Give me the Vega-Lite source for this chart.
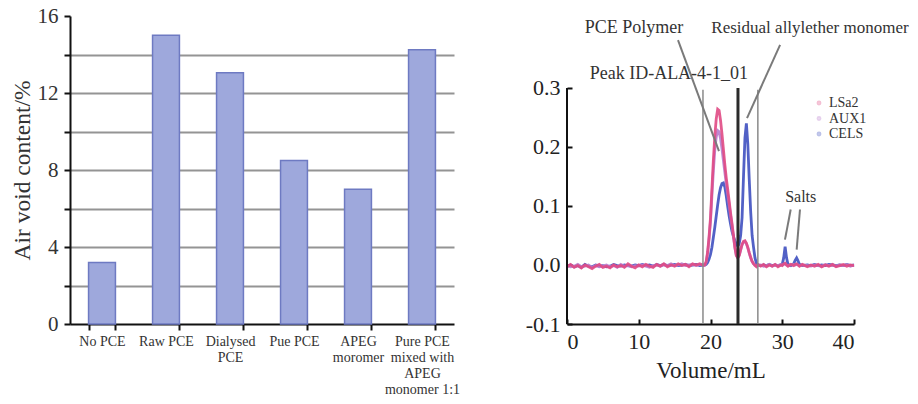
{
  "$schema": "https://vega.github.io/schema/vega-lite/v6.json",
  "background": "white",
  "padding": {"left": 10, "top": 5, "right": 2, "bottom": 2},
  "config": {
    "font": "Liberation Serif",
    "view": {"stroke": null},
    "axis": {"labelFont": "Liberation Serif", "titleFont": "Liberation Serif", "titleFontWeight": "normal"},
    "legend": {"labelFont": "Liberation Serif"}
  },
  "datasets": {
    "voids": [
      {"sample": "No PCE", "air_void": 3.2},
      {"sample": "Raw PCE", "air_void": 15.0},
      {"sample": "Dialysed PCE", "air_void": 13.05},
      {"sample": "Pue PCE", "air_void": 8.5},
      {"sample": "APEG moromer", "air_void": 7.0},
      {"sample": "Pure PCE mixed with APEG monomer 1:1", "air_void": 14.25}
    ],
    "gpc": [
      {"volume": 0, "LSa2": -0.003, "AUX1": -0.001, "CELS": -0.002},
      {"volume": 0.5, "LSa2": 0.001, "AUX1": -0.003, "CELS": 0.0},
      {"volume": 1, "LSa2": -0.004, "AUX1": -0.002, "CELS": -0.003},
      {"volume": 1.5, "LSa2": -0.001, "AUX1": 0.001, "CELS": -0.001},
      {"volume": 2, "LSa2": -0.005, "AUX1": -0.003, "CELS": -0.004},
      {"volume": 2.5, "LSa2": 0.0, "AUX1": -0.002, "CELS": 0.001},
      {"volume": 3, "LSa2": -0.003, "AUX1": 0.0, "CELS": -0.002},
      {"volume": 3.5, "LSa2": -0.006, "AUX1": -0.004, "CELS": -0.003},
      {"volume": 4, "LSa2": -0.002, "AUX1": -0.001, "CELS": 0.0},
      {"volume": 4.5, "LSa2": 0.001, "AUX1": -0.003, "CELS": -0.002},
      {"volume": 5, "LSa2": -0.004, "AUX1": -0.002, "CELS": -0.001},
      {"volume": 5.5, "LSa2": -0.002, "AUX1": 0.0, "CELS": -0.003},
      {"volume": 6, "LSa2": -0.005, "AUX1": -0.003, "CELS": -0.002},
      {"volume": 6.5, "LSa2": 0.0, "AUX1": -0.001, "CELS": 0.001},
      {"volume": 7, "LSa2": -0.003, "AUX1": -0.004, "CELS": -0.001},
      {"volume": 7.5, "LSa2": -0.001, "AUX1": 0.001, "CELS": -0.002},
      {"volume": 8, "LSa2": -0.004, "AUX1": -0.002, "CELS": 0.0},
      {"volume": 8.5, "LSa2": 0.002, "AUX1": -0.001, "CELS": -0.001},
      {"volume": 9, "LSa2": -0.002, "AUX1": -0.003, "CELS": -0.002},
      {"volume": 9.5, "LSa2": -0.005, "AUX1": -0.001, "CELS": 0.0},
      {"volume": 10, "LSa2": 0.0, "AUX1": -0.002, "CELS": -0.001},
      {"volume": 10.5, "LSa2": -0.003, "AUX1": 0.0, "CELS": 0.001},
      {"volume": 11, "LSa2": 0.001, "AUX1": -0.002, "CELS": -0.001},
      {"volume": 11.5, "LSa2": -0.002, "AUX1": -0.004, "CELS": 0.0},
      {"volume": 12, "LSa2": -0.004, "AUX1": -0.001, "CELS": -0.002},
      {"volume": 12.5, "LSa2": 0.001, "AUX1": 0.0, "CELS": 0.001},
      {"volume": 13, "LSa2": -0.002, "AUX1": -0.002, "CELS": -0.001},
      {"volume": 13.5, "LSa2": 0.002, "AUX1": 0.0, "CELS": 0.001},
      {"volume": 14, "LSa2": -0.003, "AUX1": -0.001, "CELS": -0.001},
      {"volume": 14.5, "LSa2": 0.0, "AUX1": 0.002, "CELS": 0.0},
      {"volume": 15, "LSa2": -0.002, "AUX1": -0.001, "CELS": 0.001},
      {"volume": 15.5, "LSa2": 0.002, "AUX1": 0.0, "CELS": -0.001},
      {"volume": 16, "LSa2": -0.001, "AUX1": 0.002, "CELS": 0.0},
      {"volume": 16.5, "LSa2": 0.001, "AUX1": -0.001, "CELS": 0.001},
      {"volume": 17, "LSa2": -0.003, "AUX1": 0.0, "CELS": -0.001},
      {"volume": 17.5, "LSa2": 0.002, "AUX1": 0.001, "CELS": 0.0},
      {"volume": 18, "LSa2": 0.0, "AUX1": -0.001, "CELS": 0.001},
      {"volume": 18.5, "LSa2": 0.002, "AUX1": 0.001, "CELS": -0.001},
      {"volume": 19, "LSa2": -0.001, "AUX1": 0.0, "CELS": 0.0},
      {"volume": 19.2, "LSa2": 0.0, "AUX1": 0.0, "CELS": 0.0},
      {"volume": 19.4, "LSa2": 0.006, "AUX1": 0.005, "CELS": 0.001},
      {"volume": 19.6, "LSa2": 0.022, "AUX1": 0.02, "CELS": 0.004},
      {"volume": 19.8, "LSa2": 0.048, "AUX1": 0.044, "CELS": 0.01},
      {"volume": 20.0, "LSa2": 0.08, "AUX1": 0.074, "CELS": 0.018},
      {"volume": 20.2, "LSa2": 0.13, "AUX1": 0.118, "CELS": 0.03},
      {"volume": 20.4, "LSa2": 0.178, "AUX1": 0.16, "CELS": 0.047},
      {"volume": 20.6, "LSa2": 0.218, "AUX1": 0.195, "CELS": 0.064},
      {"volume": 20.8, "LSa2": 0.248, "AUX1": 0.217, "CELS": 0.083},
      {"volume": 21.0, "LSa2": 0.264, "AUX1": 0.228, "CELS": 0.102},
      {"volume": 21.2, "LSa2": 0.262, "AUX1": 0.226, "CELS": 0.119},
      {"volume": 21.4, "LSa2": 0.245, "AUX1": 0.214, "CELS": 0.131},
      {"volume": 21.6, "LSa2": 0.222, "AUX1": 0.197, "CELS": 0.138},
      {"volume": 21.8, "LSa2": 0.196, "AUX1": 0.177, "CELS": 0.139},
      {"volume": 22.0, "LSa2": 0.17, "AUX1": 0.157, "CELS": 0.132},
      {"volume": 22.2, "LSa2": 0.147, "AUX1": 0.137, "CELS": 0.117},
      {"volume": 22.4, "LSa2": 0.128, "AUX1": 0.12, "CELS": 0.099},
      {"volume": 22.6, "LSa2": 0.108, "AUX1": 0.102, "CELS": 0.083},
      {"volume": 22.8, "LSa2": 0.088, "AUX1": 0.084, "CELS": 0.069},
      {"volume": 23.0, "LSa2": 0.07, "AUX1": 0.066, "CELS": 0.057},
      {"volume": 23.2, "LSa2": 0.05, "AUX1": 0.048, "CELS": 0.048},
      {"volume": 23.4, "LSa2": 0.03, "AUX1": 0.029, "CELS": 0.041},
      {"volume": 23.6, "LSa2": 0.016, "AUX1": 0.016, "CELS": 0.035},
      {"volume": 23.8, "LSa2": 0.012, "AUX1": 0.012, "CELS": 0.032},
      {"volume": 24.0, "LSa2": 0.016, "AUX1": 0.016, "CELS": 0.036},
      {"volume": 24.2, "LSa2": 0.026, "AUX1": 0.025, "CELS": 0.05},
      {"volume": 24.4, "LSa2": 0.035, "AUX1": 0.034, "CELS": 0.08},
      {"volume": 24.6, "LSa2": 0.04, "AUX1": 0.039, "CELS": 0.15},
      {"volume": 24.8, "LSa2": 0.041, "AUX1": 0.04, "CELS": 0.215},
      {"volume": 25.0, "LSa2": 0.037, "AUX1": 0.036, "CELS": 0.24},
      {"volume": 25.2, "LSa2": 0.03, "AUX1": 0.029, "CELS": 0.205},
      {"volume": 25.4, "LSa2": 0.021, "AUX1": 0.02, "CELS": 0.145},
      {"volume": 25.6, "LSa2": 0.013, "AUX1": 0.012, "CELS": 0.09},
      {"volume": 25.8, "LSa2": 0.006, "AUX1": 0.006, "CELS": 0.05},
      {"volume": 26.0, "LSa2": 0.002, "AUX1": 0.002, "CELS": 0.03},
      {"volume": 26.2, "LSa2": -0.001, "AUX1": 0.0, "CELS": 0.012},
      {"volume": 26.4, "LSa2": -0.003, "AUX1": -0.002, "CELS": 0.003},
      {"volume": 26.6, "LSa2": 0.001, "AUX1": -0.001, "CELS": 0.0},
      {"volume": 27.0, "LSa2": -0.002, "AUX1": 0.0, "CELS": -0.001},
      {"volume": 27.4, "LSa2": 0.001, "AUX1": -0.002, "CELS": 0.0},
      {"volume": 27.8, "LSa2": -0.003, "AUX1": -0.001, "CELS": -0.001},
      {"volume": 28.2, "LSa2": 0.0, "AUX1": 0.001, "CELS": 0.001},
      {"volume": 28.6, "LSa2": -0.002, "AUX1": -0.002, "CELS": -0.001},
      {"volume": 29.0, "LSa2": 0.001, "AUX1": 0.0, "CELS": 0.0},
      {"volume": 29.4, "LSa2": -0.003, "AUX1": -0.001, "CELS": -0.001},
      {"volume": 29.8, "LSa2": 0.0, "AUX1": 0.001, "CELS": 0.0},
      {"volume": 30.0, "LSa2": -0.001, "AUX1": 0.0, "CELS": 0.001},
      {"volume": 30.2, "LSa2": 0.002, "AUX1": 0.001, "CELS": 0.012},
      {"volume": 30.4, "LSa2": 0.003, "AUX1": 0.002, "CELS": 0.031},
      {"volume": 30.6, "LSa2": 0.0, "AUX1": 0.0, "CELS": 0.012},
      {"volume": 30.8, "LSa2": -0.002, "AUX1": -0.001, "CELS": 0.001},
      {"volume": 31.2, "LSa2": 0.001, "AUX1": 0.0, "CELS": -0.001},
      {"volume": 31.6, "LSa2": -0.001, "AUX1": 0.001, "CELS": 0.002},
      {"volume": 31.8, "LSa2": 0.001, "AUX1": 0.0, "CELS": 0.008},
      {"volume": 32.0, "LSa2": 0.002, "AUX1": 0.001, "CELS": 0.012},
      {"volume": 32.2, "LSa2": 0.0, "AUX1": 0.0, "CELS": 0.007},
      {"volume": 32.4, "LSa2": -0.002, "AUX1": -0.001, "CELS": 0.001},
      {"volume": 32.8, "LSa2": 0.001, "AUX1": 0.0, "CELS": -0.001},
      {"volume": 33.5, "LSa2": -0.003, "AUX1": -0.001, "CELS": 0.0},
      {"volume": 34.0, "LSa2": 0.0, "AUX1": -0.002, "CELS": -0.001},
      {"volume": 34.5, "LSa2": -0.002, "AUX1": 0.0, "CELS": 0.001},
      {"volume": 35.0, "LSa2": 0.001, "AUX1": -0.001, "CELS": -0.001},
      {"volume": 35.5, "LSa2": -0.003, "AUX1": -0.002, "CELS": 0.0},
      {"volume": 36.0, "LSa2": 0.0, "AUX1": 0.001, "CELS": -0.001},
      {"volume": 36.5, "LSa2": -0.002, "AUX1": -0.001, "CELS": 0.001},
      {"volume": 37.0, "LSa2": 0.001, "AUX1": 0.0, "CELS": 0.0},
      {"volume": 37.5, "LSa2": -0.003, "AUX1": -0.002, "CELS": -0.001},
      {"volume": 38.0, "LSa2": -0.001, "AUX1": 0.0, "CELS": 0.0},
      {"volume": 38.5, "LSa2": 0.001, "AUX1": -0.001, "CELS": -0.001},
      {"volume": 39.0, "LSa2": -0.002, "AUX1": 0.001, "CELS": 0.001},
      {"volume": 39.5, "LSa2": 0.0, "AUX1": -0.002, "CELS": -0.001},
      {"volume": 40.0, "LSa2": -0.001, "AUX1": 0.0, "CELS": 0.0}
    ],
    "boundaries": [
      {"volume": 18.95, "from": -0.1, "to": 0.297},
      {"volume": 26.6, "from": -0.1, "to": 0.297}
    ],
    "apex": [
      {"volume": 23.83, "from": -0.1, "to": 0.3}
    ],
    "yaxisline": [
      {"volume": 0, "from": -0.1, "to": 0.3}
    ],
    "leaders": [
      {"volume": 15.47, "level": 0.381, "volume2": 21.18, "level2": 0.193},
      {"volume": 29.7, "level": 0.373, "volume2": 25.09, "level2": 0.249},
      {"volume": 31.18, "level": 0.094, "volume2": 30.38, "level2": 0.043},
      {"volume": 32.47, "level": 0.094, "volume2": 32.01, "level2": 0.026}
    ],
    "labels18": [
      {"text": "PCE Polymer", "volume": 9.34, "level": 0.402},
      {"text": "Peak ID-ALA-4-1_01", "volume": 14.2, "level": 0.3237}
    ],
    "labels17": [
      {"text": "Residual allylether monomer", "volume": 33.87, "level": 0.402}
    ],
    "salts": [
      {"text": "Salts", "volume": 32.57, "level": 0.116}
    ]
  },
  "bounds": "flush",
  "spacing": 113,
  "resolve": {"scale": {"color": "independent"}, "legend": {"color": "independent"}},
  "hconcat": [
    {
      "width": 384,
      "height": 308,
      "data": {"name": "voids"},
      "mark": {"type": "bar", "fill": "#9ea8dc", "stroke": "#6e7ac2", "strokeWidth": 1.5},
      "encoding": {
        "x": {
          "field": "sample", "type": "nominal", "sort": null,
          "scale": {"paddingInner": 0.58, "paddingOuter": 0.29},
          "axis": {
            "title": null, "labelAngle": 0, "tickBand": "extent",
            "labelExpr": "datum.value == 'Dialysed PCE' ? ['Dialysed', 'PCE'] : datum.value == 'APEG moromer' ? ['APEG', 'moromer'] : datum.value == 'Pure PCE mixed with APEG monomer 1:1' ? ['Pure PCE', 'mixed with', 'APEG', 'monomer 1:1'] : datum.value",
            "tickSize": 6, "tickWidth": 2, "tickColor": "#111",
            "domainColor": "#111", "domainWidth": 2,
            "labelFont": "Liberation Serif",
            "labelFontSize": 14, "labelLineHeight": 16, "labelPadding": 4, "labelColor": "#333", "labelLimit": 0
          }
        },
        "y": {
          "field": "air_void", "type": "quantitative",
          "scale": {"domain": [0, 16], "nice": false},
          "axis": {
            "title": "Air void content/%", "titleFont": "Liberation Serif", "titleFontSize": 23.5, "titleFontWeight": "normal", "titleColor": "#333", "titlePadding": 3,
            "values": [0, 2, 4, 6, 8, 10, 12, 14, 16],
            "labelExpr": "datum.value % 4 == 0 ? datum.label : ''",
            "labelFont": "Liberation Serif", "labelFontSize": 21, "labelColor": "#333", "labelPadding": 6,
            "grid": true,
            "gridColor": {"condition": {"test": "datum.value == 16 || datum.value == 0", "value": "transparent"}, "value": "#949494"},
            "gridWidth": 2,
            "tickSize": 6, "tickWidth": 2, "tickColor": "#111",
            "domainColor": "#111", "domainWidth": 2
          }
        }
      }
    },
    {
      "width": 287,
      "height": 308,
      "layer": [
        {
          "data": {"name": "gpc"},
          "transform": [{"fold": ["CELS", "AUX1", "LSa2"], "as": ["detector", "response"]}],
          "mark": {"type": "line", "strokeWidth": 2.8, "opacity": 0.9},
          "encoding": {
            "x": {
              "field": "volume", "type": "quantitative",
              "scale": {"domain": [0, 40], "nice": false},
              "axis": {
                "title": "Volume/mL", "titleFont": "Liberation Serif", "titleFontSize": 23, "titleFontWeight": "normal", "titleColor": "#222", "titlePadding": 7,
                "values": [0, 5, 10, 15, 20, 25, 30, 35, 40],
                "labelExpr": "datum.value % 10 == 0 ? datum.label : ''",
                "labelFont": "Liberation Serif", "labelFontSize": 22, "labelColor": "#222", "labelPadding": 12,
                "tickSize": -5, "tickWidth": 2, "tickColor": "#111",
                "domainColor": "#111", "domainWidth": 2, "grid": false
              }
            },
            "y": {
              "field": "response", "type": "quantitative",
              "scale": {"domain": [-0.1, 0.422], "nice": false, "zero": false},
              "axis": {
                "title": null, "domain": false, "grid": false,
                "values": [-0.1, -0.05, 0, 0.05, 0.1, 0.15, 0.2, 0.25, 0.3],
                "labelExpr": "datum.value == -0.1 ? '-0.1' : (abs(datum.value * 10 - round(datum.value * 10)) < 0.01 ? format(datum.value, '.1f') : '')",
                "labelFont": "Liberation Serif", "labelFontSize": 22, "labelColor": "#222", "labelPadding": 12,
                "tickSize": -5, "tickWidth": 2, "tickColor": "#111"
              }
            },
            "color": {
              "field": "detector", "type": "nominal",
              "scale": {"domain": ["LSa2", "AUX1", "CELS"], "range": ["#e04a84", "#b87ccc", "#3f50c0"]},
              "legend": {
                "orient": "none", "legendX": 245, "legendY": 80, "title": null,
                "symbolType": "circle", "symbolSize": 8, "symbolStrokeWidth": 2, "symbolOpacity": 0.35,
                "labelFont": "Liberation Serif", "labelFontSize": 14, "labelColor": "#333", "labelOffset": 3, "rowPadding": 1.5
              }
            }
          }
        },
        {
          "data": {"name": "boundaries"},
          "mark": {"type": "rule", "color": "#8a8a8a", "strokeWidth": 1.5},
          "encoding": {
            "x": {"field": "volume", "type": "quantitative"},
            "y": {"field": "from", "type": "quantitative"},
            "y2": {"field": "to"}
          }
        },
        {
          "data": {"name": "apex"},
          "mark": {"type": "rule", "color": "#2a2a2a", "strokeWidth": 3},
          "encoding": {
            "x": {"field": "volume", "type": "quantitative"},
            "y": {"field": "from", "type": "quantitative"},
            "y2": {"field": "to"}
          }
        },
        {
          "data": {"name": "leaders"},
          "mark": {"type": "rule", "color": "#7a7a7a", "strokeWidth": 2},
          "encoding": {
            "x": {"field": "volume", "type": "quantitative"},
            "y": {"field": "level", "type": "quantitative"},
            "x2": {"field": "volume2"},
            "y2": {"field": "level2"}
          }
        },
        {
          "data": {"name": "labels18"},
          "mark": {"type": "text", "font": "Liberation Serif", "fontSize": 18, "color": "#333", "align": "center", "baseline": "middle"},
          "encoding": {
            "x": {"field": "volume", "type": "quantitative"},
            "y": {"field": "level", "type": "quantitative"},
            "text": {"field": "text"}
          }
        },
        {
          "data": {"name": "labels17"},
          "mark": {"type": "text", "font": "Liberation Serif", "fontSize": 17, "color": "#333", "align": "center", "baseline": "middle"},
          "encoding": {
            "x": {"field": "volume", "type": "quantitative"},
            "y": {"field": "level", "type": "quantitative"},
            "text": {"field": "text"}
          }
        },
        {
          "data": {"name": "salts"},
          "mark": {"type": "text", "font": "Liberation Serif", "fontSize": 16, "color": "#333", "align": "center", "baseline": "middle"},
          "encoding": {
            "x": {"field": "volume", "type": "quantitative"},
            "y": {"field": "level", "type": "quantitative"},
            "text": {"field": "text"}
          }
        },
        {
          "data": {"name": "yaxisline"},
          "mark": {"type": "rule", "color": "#111", "strokeWidth": 2},
          "encoding": {
            "x": {"field": "volume", "type": "quantitative"},
            "y": {"field": "from", "type": "quantitative"},
            "y2": {"field": "to"}
          }
        }
      ]
    }
  ]
}
